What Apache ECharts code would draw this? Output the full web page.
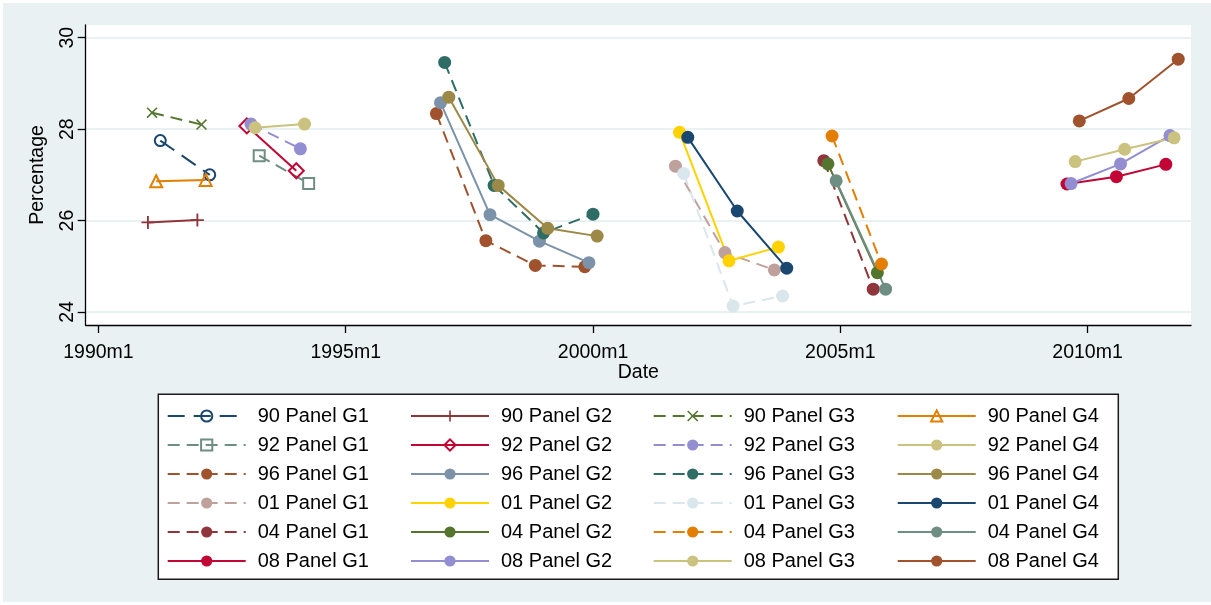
<!DOCTYPE html>
<html>
<head>
<meta charset="utf-8">
<script src="https://cdn.jsdelivr.net/npm/echarts@6/dist/echarts.min.js"></script>
<style>
  html, body { margin: 0; padding: 0; background: #ffffff; width: 1211px; height: 605px; overflow: hidden; }
  #chart { position: absolute; left: 3px; top: 3px; width: 1208px; height: 599px; }
</style>
</head>
<body>
<div id="chart"></div>
<script>
// ---- Data ----
const xTickLabels = ['1990m1', '1995m1', '2000m1', '2005m1', '2010m1'];
const yTickLabels = [24, 26, 28, 30];

const s90G1 = [['1991m4', 27.75], ['1992m4', 27.00]];
const s90G2 = [['1991m1', 25.96], ['1992m1', 26.01]];
const s90G3 = [['1991m2', 28.36], ['1992m2', 28.10]];
const s90G4 = [['1991m3', 26.86], ['1992m3', 26.89]];
const s92G1 = [['1993m4', 27.42], ['1994m4', 26.81]];
const s92G2 = [['1993m1', 28.07], ['1994m1', 27.09]];
const s92G3 = [['1993m2', 28.11], ['1994m2', 27.57]];
const s92G4 = [['1993m3', 28.03], ['1994m3', 28.11]];
const s96G1 = [['1996m11', 28.34], ['1997m11', 25.56], ['1998m11', 25.02], ['1999m11', 24.99]];
const s96G2 = [['1996m12', 28.58], ['1997m12', 26.13], ['1998m12', 25.55], ['1999m12', 25.08]];
const s96G3 = [['1997m1', 29.46], ['1998m1', 26.77], ['1999m1', 25.73], ['2000m1', 26.14]];
const s96G4 = [['1997m2', 28.70], ['1998m2', 26.77], ['1999m2', 25.83], ['2000m2', 25.66]];
const s01G1 = [['2001m9', 27.19], ['2002m9', 25.30], ['2003m9', 24.92]];
const s01G2 = [['2001m10', 27.93], ['2002m10', 25.12], ['2003m10', 25.42]];
const s01G3 = [['2001m11', 27.03], ['2002m11', 24.13], ['2003m11', 24.35]];
const s01G4 = [['2001m12', 27.82], ['2002m12', 26.21], ['2003m12', 24.96]];
const s04G1 = [['2004m9', 27.31], ['2005m9', 24.50]];
const s04G2 = [['2004m10', 27.24], ['2005m10', 24.86]];
const s04G3 = [['2004m11', 27.85], ['2005m11', 25.05]];
const s04G4 = [['2004m12', 26.87], ['2005m12', 24.50]];
const s08G1 = [['2009m8', 26.80], ['2010m8', 26.96], ['2011m8', 27.23]];
const s08G2 = [['2009m9', 26.81], ['2010m9', 27.24], ['2011m9', 27.86]];
const s08G3 = [['2009m10', 27.29], ['2010m10', 27.56], ['2011m10', 27.81]];
const s08G4 = [['2009m11', 28.18], ['2010m11', 28.67], ['2011m11', 29.53]];

const panels = ['90', '92', '96', '01', '04', '08'];
const groups = ['G1', 'G2', 'G3', 'G4'];
const seriesData = {
  '90': [s90G1, s90G2, s90G3, s90G4],
  '92': [s92G1, s92G2, s92G3, s92G4],
  '96': [s96G1, s96G2, s96G3, s96G4],
  '01': [s01G1, s01G2, s01G3, s01G4],
  '04': [s04G1, s04G2, s04G3, s04G4],
  '08': [s08G1, s08G2, s08G3, s08G4]
};

// ---- Styles ----
const colors = {
  '90': ['#1a476f', '#90353b', '#55752f', '#e37e00'],
  '92': ['#6e8e84', '#c10534', '#938dd2', '#cac27e'],
  '96': ['#a0522d', '#7b92a8', '#2d6d66', '#9c8847'],
  '01': ['#bfa19c', '#ffd200', '#d9e6eb', '#1a476f'],
  '04': ['#90353b', '#55752f', '#e37e00', '#6e8e84'],
  '08': ['#c10534', '#938dd2', '#cac27e', '#a0522d']
};
const DASH = [12, 7], LONGDASH = [17, 9];
const dashes = {
  '90': [LONGDASH, 'solid', DASH, 'solid'],
  '92': [DASH, 'solid', DASH, 'solid'],
  '96': [DASH, 'solid', DASH, 'solid'],
  '01': [DASH, 'solid', DASH, 'solid'],
  '04': [DASH, 'solid', DASH, 'solid'],
  '08': ['solid', 'solid', 'solid', 'solid']
};
const PLUS = 'path://M-7,-1H7V1H-7Z M-1,-7H1V7H-1Z';
const CROSS = 'path://M-5,-4L-4,-5L5,4L4,5Z M4,-5L5,-4L-4,5L-5,4Z';
function markerFor(p, g) {
  if (p === '90' && g === 0) return { symbol: 'circle', size: 11, hollow: true };
  if (p === '90' && g === 1) return { symbol: PLUS, size: 13, hollow: false };
  if (p === '90' && g === 2) return { symbol: CROSS, size: 11, hollow: false };
  if (p === '90' && g === 3) return { symbol: 'triangle', size: 12, hollow: true };
  if (p === '92' && g === 0) return { symbol: 'rect', size: 11, hollow: true };
  if (p === '92' && g === 1) return { symbol: 'diamond', size: 15, hollow: true };
  return { symbol: 'circle', size: 13, hollow: false };
}

function toMonth(s) {
  const m = /^(\d{4})m(\d{1,2})$/.exec(s);
  return (Number(m[1]) - 1990) * 12 + (Number(m[2]) - 1);
}

const FONT = '"Liberation Sans", Arial, Helvetica, sans-serif';
const series = [];
panels.forEach(p => {
  groups.forEach((g, gi) => {
    const c = colors[p][gi];
    const mk = markerFor(p, gi);
    series.push({
      name: p + ' Panel ' + g,
      type: 'line',
      data: seriesData[p][gi].map(d => [toMonth(d[0]), d[1]]),
      symbol: mk.symbol,
      symbolSize: mk.size,
      showSymbol: true,
      showAllSymbol: true,
      lineStyle: { color: c, width: 2, type: dashes[p][gi] },
      itemStyle: mk.hollow
        ? { color: 'rgba(0,0,0,0)', borderColor: c, borderWidth: 2 }
        : { color: c, borderWidth: 0 },
      emphasis: { disabled: true },
      silent: true
    });
  });
});

const legendLefts = [163.7, 407, 649.7, 893.7];
const legends = groups.map((g, gi) => ({
  orient: 'vertical',
  left: legendLefts[gi],
  top: 403,
  padding: 0,
  itemWidth: 78,
  itemHeight: 14,
  itemGap: 9,
  selectedMode: false,
  data: panels.map(p => p + ' Panel ' + g),
  textStyle: { fontSize: 20, color: '#000', fontFamily: FONT, padding: [0, 0, 0, 7] }
}));

const xTicks = xTickLabels.map(toMonth);

const chart = echarts.init(document.getElementById('chart'), null, { renderer: 'canvas' });
chart.setOption({
  animation: false,
  backgroundColor: '#E9F1F3',
  grid: {
    left: 82.7, top: 22, right: 20, bottom: 277,
    show: true, backgroundColor: '#ffffff', borderWidth: 0
  },
  graphic: [{
    type: 'rect',
    shape: { x: 155.3, y: 391.3, width: 960, height: 185 },
    style: { fill: '#ffffff', stroke: '#1a1a1a', lineWidth: 1.5 },
    z: 0
  }],
  legend: legends,
  xAxis: {
    type: 'value',
    min: -3.1,
    max: 265.1,
    name: 'Date',
    nameLocation: 'middle',
    nameGap: 38,
    nameMoveOverlap: false,
    nameTextStyle: { fontSize: 19.5, color: '#000', fontFamily: FONT },
    axisLine: { show: true, onZero: false, lineStyle: { color: '#000', width: 1.3 } },
    axisTick: { show: true, length: 8, customValues: xTicks, lineStyle: { color: '#000', width: 1.3 } },
    axisLabel: {
      customValues: xTicks,
      margin: 18,
      fontSize: 19.5, color: '#000', fontFamily: FONT,
      formatter: v => xTickLabels[xTicks.indexOf(v)] || ''
    },
    splitLine: { show: false }
  },
  yAxis: {
    type: 'value',
    min: 23.716,
    max: 30.278,
    name: 'Percentage',
    nameLocation: 'middle',
    nameGap: 38,
    nameMoveOverlap: false,
    nameTextStyle: { fontSize: 19.5, color: '#000', fontFamily: FONT },
    axisLine: { show: true, onZero: false, lineStyle: { color: '#000', width: 1.3 } },
    axisTick: { show: true, length: 8, customValues: yTickLabels, lineStyle: { color: '#000', width: 1.3 } },
    axisLabel: {
      customValues: yTickLabels,
      rotate: 90,
      margin: 8,
      fontSize: 19.5, color: '#000', fontFamily: FONT
    },
    splitLine: { show: true, lineStyle: { color: '#E3ECEF', width: 1.5 } }
  },
  series: series
});
</script>
</body>
</html>
